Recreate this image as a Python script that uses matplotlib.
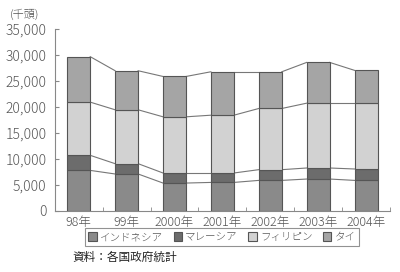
import numpy as np
import matplotlib
matplotlib.use('Agg')
import matplotlib.pyplot as plt

plt.rcParams['font.family'] = ['Noto Sans CJK JP', 'DejaVu Sans']

years = ['98年', '99年', '2000年', '2001年', '2002年', '2003年', '2004年']
indonesia = [7760, 7070, 5330, 5450, 5840, 6100, 5840]
malaysia = [2890, 1980, 1930, 1810, 2060, 2120, 2190]
philippines = [10220, 10350, 10790, 11100, 11750, 12450, 12640]
thai = [8730, 7500, 7750, 8340, 7050, 7830, 6300]

names = ['インドネシア', 'マレーシア', 'フィリピン', 'タイ']
colors = ['#8a8a8a', '#6c6c6c', '#d2d2d2', '#a5a5a5']
series = [indonesia, malaysia, philippines, thai]

fig = plt.figure(figsize=(4, 2.72), dpi=100)
ax = fig.add_axes([0.137, 0.225, 0.838, 0.67])

x = np.arange(len(years))
w = 0.48
bottom = np.zeros(len(years))
for vals, name, c in zip(series, names, colors):
    ax.bar(x, vals, w, bottom=bottom, color=c, edgecolor='#555555',
           linewidth=0.8, label=name, zorder=3)
    bottom = bottom + np.array(vals)
    # lines joining the segment tops of neighbouring bars
    for i in range(len(years) - 1):
        ax.plot([x[i] + w / 2, x[i + 1] - w / 2], [bottom[i], bottom[i + 1]],
                color='#777777', linewidth=0.8, zorder=2)

ax.set_xlim(-0.5, len(years) - 0.5)
ax.set_ylim(0, 35000)
ax.set_yticks(range(0, 35001, 5000))
ax.set_yticklabels([f'{v:,}' for v in range(0, 35001, 5000)], fontweight='light')
ax.set_xticks(x)
ax.set_xticklabels(years, fontweight='light')
ax.set_xticks(np.arange(-0.5, len(years)), minor=True)
ax.tick_params(axis='x', which='major', length=0, labelsize=9, pad=4)
ax.tick_params(axis='x', which='minor', length=3, direction='in', color='#888888')
ax.tick_params(axis='y', length=3, direction='in', labelsize=10, pad=6,
               color='#888888')
for t in ax.get_yticklabels() + ax.get_xticklabels():
    t.set_color('#555555')
ax.spines['top'].set_visible(False)
ax.spines['right'].set_visible(False)
ax.spines['left'].set_color('#888888')
ax.spines['bottom'].set_color('#888888')

fig.text(0.025, 0.945, '(千頭)', fontsize=8, color='#555555', va='center',
         fontweight='light')

leg = fig.legend(loc='center', bbox_to_anchor=(0.555, 0.128), ncol=4,
                 frameon=True, fancybox=False, fontsize=7.6, handlelength=0.8,
                 handleheight=0.8, handletextpad=0.3, columnspacing=1.0,
                 borderpad=0.3, edgecolor='#777777')
leg.get_frame().set_linewidth(0.8)
for t in leg.get_texts():
    t.set_color('#555555')
    t.set_fontweight('light')

fig.text(0.18, 0.055, '資料：各国政府統計', fontsize=8.4, color='#222222', va='center')

fig.savefig('out.png', dpi=100)
